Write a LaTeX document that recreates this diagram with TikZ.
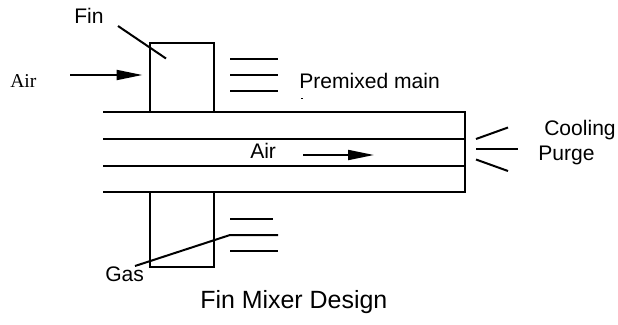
\documentclass[tikz,border=0pt]{standalone}
\usepackage{fontspec}
\setmainfont{Liberation Sans}
\newfontfamily\serifface{Liberation Serif}
\usetikzlibrary{arrows.meta}
\tikzset{
  ln/.style={line width=1.5pt,draw=black,line cap=butt},
  flow/.style={ln,-{Triangle[length=19.5pt,width=7.5pt]}},
  lbl/.style={inner sep=0pt,anchor=base west,font=\fontsize{15.8pt}{18pt}\selectfont},
}
\begin{document}
\begin{tikzpicture}[x=0.75pt,y=-0.75pt]
\useasboundingbox (0,0) rectangle (618,325);
% pipe
\coordinate (pTL) at (103,112); \coordinate (pTR) at (465,112);
\coordinate (p1L) at (103,139); \coordinate (p1R) at (465,139);
\coordinate (p2L) at (103,166); \coordinate (p2R) at (465,166);
\coordinate (pBL) at (103,192); \coordinate (pBR) at (465,192);
\draw[ln] (pTL) -- (pTR) -- (pBR) -- (pBL);
\draw[ln] (p1L) -- (p1R);
\draw[ln] (p2L) -- (p2R);
% fins
\coordinate (fa) at (150,43); \coordinate (fb) at (214,112);
\coordinate (ga) at (150,192); \coordinate (gb) at (214,267);
\draw[ln] (fa) rectangle (fb);
\draw[ln] (ga) rectangle (gb);
% fin pointer
\coordinate (finA) at (118,26); \coordinate (finB) at (166,58.5);
\draw[ln] (finA) -- (finB);
% air arrows
\coordinate (airA) at (70,75); \coordinate (airB) at (142.5,75);
\draw[flow] (airA) -- (airB);
\coordinate (inA) at (303,155); \coordinate (inB) at (374,155);
\draw[flow] (inA) -- (inB);
% upper stubs
\coordinate (u1a) at (230,59); \coordinate (u1b) at (278,59);
\coordinate (u2a) at (230,75); \coordinate (u2b) at (278,75);
\coordinate (u3a) at (230,91); \coordinate (u3b) at (278,91);
\draw[ln] (u1a) -- (u1b);
\draw[ln] (u2a) -- (u2b);
\draw[ln] (u3a) -- (u3b);
% lower stubs
\coordinate (l1a) at (230,219); \coordinate (l1b) at (273,219);
\coordinate (l2a) at (230,235); \coordinate (l2b) at (278,235);
\coordinate (l3a) at (230,251); \coordinate (l3b) at (278,251);
\coordinate (gasA) at (135,266);
\draw[ln] (l1a) -- (l1b);
\draw[ln] (gasA) -- (l2a) -- (l2b);
\draw[ln] (l3a) -- (l3b);
% right stubs
\coordinate (r1a) at (476,139); \coordinate (r1b) at (508,127.5);
\coordinate (r2a) at (476,149); \coordinate (r2b) at (518,149);
\coordinate (r3a) at (476,159.5); \coordinate (r3b) at (508,171);
\draw[ln] (r1a) -- (r1b);
\draw[ln] (r2a) -- (r2b);
\draw[ln] (r3a) -- (r3b);
% labels
\node[lbl] (tFin) at (74,23) {Fin};
\node[lbl,font=\fontsize{14.7pt}{17pt}\serifface] (tAir) at (10,87) {Air};
\node[lbl] (tPre) at (299,88) {Premixed main};
\node[lbl] (tAir2) at (250,158) {Air};
\node[lbl] (tCool) at (544,135) {Cooling};
\node[lbl] (tPurge) at (538,160) {Purge};
\node[lbl] (tGas) at (105,281) {Gas};
\node[lbl,font=\fontsize{18.7pt}{22pt}\selectfont] (tTitle) at (200,308) {Fin Mixer Design};
\fill (300.5,97.5) rectangle (302.5,98.5);
\end{tikzpicture}
\end{document}
